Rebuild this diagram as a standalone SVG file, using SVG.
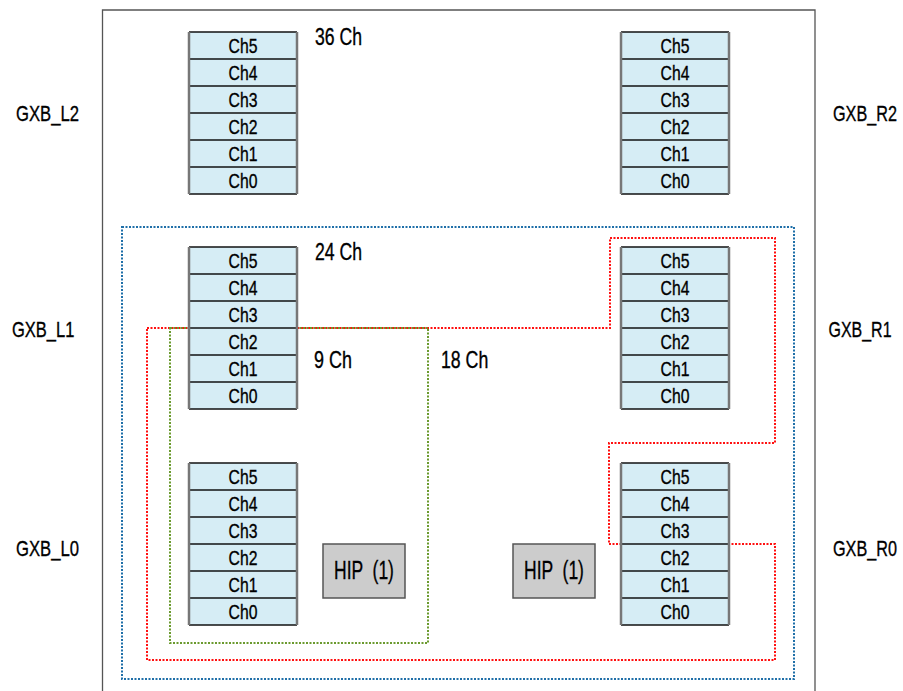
<svg xmlns="http://www.w3.org/2000/svg" width="903" height="691" viewBox="0 0 903 691">
<defs>
<style>
text{font-family:"Liberation Sans",Arial,sans-serif;fill:#000;stroke:#000;stroke-width:0.35;}
.ch{font-size:21px;text-anchor:middle;}
.lbl{font-size:23px;}
.gxb{font-size:22px;}
.hipt{font-size:25px;}
.cell{fill:#d6edf5;}
.hl{stroke:#111;stroke-width:1.5;}
.vl{stroke:#777;stroke-width:2.5;}
.hip{fill:#cccccc;stroke:#555;stroke-width:1.5;}
.dot{fill:none;stroke-width:2;stroke-dasharray:2 1.5;}
</style>
<g id="stack">
<rect class="cell" x="0" y="0" width="108" height="162"/>
<line class="hl" x1="0" y1="0" x2="108" y2="0"/>
<line class="hl" x1="0" y1="27" x2="108" y2="27"/>
<line class="hl" x1="0" y1="54" x2="108" y2="54"/>
<line class="hl" x1="0" y1="81" x2="108" y2="81"/>
<line class="hl" x1="0" y1="108" x2="108" y2="108"/>
<line class="hl" x1="0" y1="135" x2="108" y2="135"/>
<line class="hl" x1="0" y1="162" x2="108" y2="162"/>
<line class="vl" x1="0" y1="0" x2="0" y2="162"/>
<line class="vl" x1="108" y1="0" x2="108" y2="162"/>
<text class="ch" transform="translate(54,21) scale(0.75,1)">Ch5</text>
<text class="ch" transform="translate(54,48) scale(0.75,1)">Ch4</text>
<text class="ch" transform="translate(54,75) scale(0.75,1)">Ch3</text>
<text class="ch" transform="translate(54,102) scale(0.75,1)">Ch2</text>
<text class="ch" transform="translate(54,129) scale(0.75,1)">Ch1</text>
<text class="ch" transform="translate(54,156) scale(0.75,1)">Ch0</text>
</g>
</defs>
<rect width="903" height="691" fill="#fff"/>
<path d="M102.5 700 V10 H815 V700" fill="none" stroke="#555" stroke-width="1.3"/>
<g id="connectors">
<rect class="dot" x="122" y="227" width="672" height="452" stroke="#1f6fa8"/>
<path class="dot" stroke="#ff1010" d="M147 328 H610 V238 H775 V443 H609 V544 H775 V660 H147 Z"/>
<path class="dot" stroke="#6b9a2e" d="M170 328 H428 V643 H170 Z"/>
</g>
<g id="stack-L2"><use href="#stack" x="189" y="32"/></g>
<g id="stack-R2"><use href="#stack" x="621" y="32"/></g>
<g id="stack-L1"><use href="#stack" x="189" y="247"/></g>
<g id="stack-R1"><use href="#stack" x="621" y="247"/></g>
<g id="stack-L0"><use href="#stack" x="189" y="463"/></g>
<g id="stack-R0"><use href="#stack" x="621" y="463"/></g>
<g id="hip-L"><rect class="hip" x="323" y="544" width="82" height="54"/><text class="hipt" transform="translate(334,579) scale(0.7,1)" xml:space="preserve">HIP  (1)</text></g>
<g id="hip-R"><rect class="hip" x="513" y="544" width="82" height="54"/><text class="hipt" transform="translate(524,579) scale(0.7,1)" xml:space="preserve">HIP  (1)</text></g>
<g id="labels">
<text class="lbl" transform="translate(315,45) scale(0.766,1)">36 Ch</text>
<text class="lbl" transform="translate(315,260) scale(0.766,1)">24 Ch</text>
<text class="lbl" transform="translate(314,368) scale(0.78,1)">9 Ch</text>
<text class="lbl" transform="translate(441,368) scale(0.77,1)">18 Ch</text>
<text class="gxb" transform="translate(16,121) scale(0.757,1)">GXB_L2</text>
<text class="gxb" transform="translate(12,336.5) scale(0.75,1)">GXB_L1</text>
<text class="gxb" transform="translate(16,556) scale(0.757,1)">GXB_L0</text>
<text class="gxb" transform="translate(833,121) scale(0.737,1)">GXB_R2</text>
<text class="gxb" transform="translate(828.5,336.5) scale(0.726,1)">GXB_R1</text>
<text class="gxb" transform="translate(833,556) scale(0.737,1)">GXB_R0</text>
</g>
</svg>
